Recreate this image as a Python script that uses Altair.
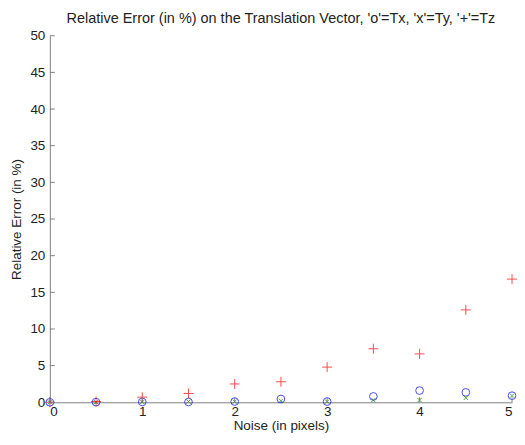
import altair as alt
import pandas as pd

noise = [0, 0.5, 1, 1.5, 2, 2.5, 3, 3.5, 4, 4.5, 5]
tx = [0, 0.02, 0.05, 0.05, 0.1, 0.45, 0.1, 0.8, 1.6, 1.35, 0.9]
ty = [0, 0.02, 0.05, 0.1, 0.1, 0.2, 0.1, 0.3, 0.3, 0.6, 0.9]
tz = [0, 0.1, 0.7, 1.2, 2.5, 2.8, 4.8, 7.3, 6.6, 12.6, 16.8]

x_ticks = [0, 1, 2, 3, 4, 5]
y_ticks = [0, 5, 10, 15, 20, 25, 30, 35, 40, 45, 50]

df = pd.DataFrame({"noise": noise, "tx": tx, "ty": ty, "tz": tz})
dfx = pd.DataFrame({"noise": x_ticks})
dfy = pd.DataFrame({"tx": y_ticks})

AX = "#808080"
TXT = "#222222"
FONT = "Liberation Sans"
FS = 13.5

xs = alt.Scale(domain=[0, 5], nice=False, zero=False)
ys = alt.Scale(domain=[0, 50], nice=False, zero=False)

xaxis = alt.Axis(values=x_ticks, format="d", title="Noise (in pixels)", grid=False, ticks=False,
                 domainColor=AX, labelColor=TXT, titleColor=TXT, labelFontSize=FS,
                 titleFontSize=FS, titleFontWeight="normal", labelPadding=2, titlePadding=1,
                 labelFont=FONT, titleFont=FONT)
yaxis = alt.Axis(values=y_ticks, format="d", title="Relative Error (in %)", grid=False, ticks=False,
                 domainColor=AX, labelColor=TXT, titleColor=TXT, labelFontSize=FS,
                 titleFontSize=FS, titleFontWeight="normal", labelPadding=5, titlePadding=6,
                 labelFont=FONT, titleFont=FONT)

X = alt.X("noise:Q", scale=xs, axis=xaxis)

base = alt.Chart(df)

c_tx = base.mark_point(shape="circle", filled=False, color="#0000ff", size=60, strokeWidth=1).encode(
    x=X, y=alt.Y("tx:Q", scale=ys, axis=yaxis))
c_ty = base.mark_point(shape="M-1,-1L1,1M-1,1L1,-1", filled=False, color="#008000", size=18, strokeWidth=1).encode(
    x=X, y=alt.Y("ty:Q", scale=ys, axis=yaxis))
c_tz = base.mark_point(shape="M-1,0L1,0M0,-1L0,1", filled=False, color="#ff0000", size=100, strokeWidth=1).encode(
    x=X, y=alt.Y("tz:Q", scale=ys, axis=yaxis))

yt = alt.Chart(dfy).mark_rule(color=AX, strokeWidth=1).encode(
    y=alt.Y("tx:Q", scale=ys, axis=yaxis), x=alt.value(0), x2=alt.value(5))
xt = alt.Chart(dfx).mark_rule(color=AX, strokeWidth=1).encode(
    x=X, y=alt.value(368), y2=alt.value(363))

chart = alt.layer(c_tx, c_ty, c_tz, yt, xt).properties(
    width=464, height=368,
    autosize=alt.AutoSizeParams(type="none"),
    padding={"left": 42, "top": 27, "right": 5, "bottom": 30},
    title=alt.TitleParams("Relative Error (in %) on the Translation Vector, 'o'=Tx, 'x'=Ty, '+'=Tz",
                          fontSize=14.5, fontWeight="normal", color=TXT, font=FONT, offset=2,
                          anchor="middle"),
).configure_view(stroke=None)

chart.save("out.html", embed_options={"renderer": "svg", "actions": False})
